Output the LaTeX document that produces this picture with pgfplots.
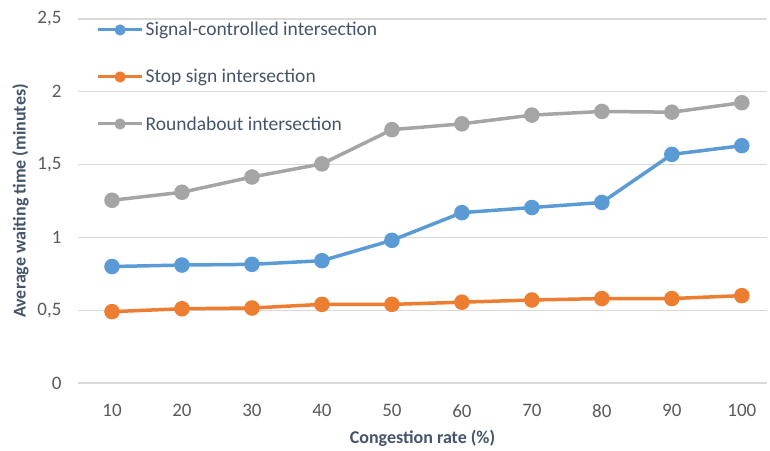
\documentclass[border=0pt]{standalone}
\usepackage{pgfplots}
\pgfplotsset{compat=1.18}
\usepackage{fontspec}
\setmainfont{Carlito}
\definecolor{cblue}{HTML}{5B9BD5}
\definecolor{corange}{HTML}{ED7D31}
\definecolor{cgray}{HTML}{A5A5A5}
\definecolor{cgrid}{HTML}{D9D9D9}
\definecolor{ctick}{HTML}{595959}
\definecolor{clab}{HTML}{44546A}
\begin{document}
\begin{tikzpicture}[x=1pt,y=1pt]
\useasboundingbox (0,0) rectangle (770,450);
\begin{axis}[
  at={(78pt,67pt)}, anchor=south west,
  scale only axis, width=689pt, height=364pt,
  xmin=0.514, xmax=10.36, ymin=0, ymax=2.5,
  xtick={1,...,10},
  xticklabels={10,20,30,40,50,60,70,80,90,100},
  ytick={0,0.5,1,1.5,2,2.5},
  yticklabels={0,{0,5},1,{1,5},2,{2,5}},
  axis line style={draw=none},
  tick style={draw=none},
  ymajorgrids, grid style={cgrid, line width=1.3pt},
  ticklabel style={font=\fontsize{19}{22}\selectfont, text=ctick},
  xticklabel style={yshift=-18pt},
  yticklabel style={xshift=-13pt},
  xlabel={Congestion rate (\%)},
  ylabel={Average waiting time (minutes)},
  label style={font=\bfseries\fontsize{18}{20}\selectfont, text=clab},
  xlabel style={yshift=-6pt},
  ylabel style={yshift=2pt},
  legend style={draw=none, fill=none, at={(axis cs:0.78,2.49)}, anchor=north west,
    font=\fontsize{19.5}{22}\selectfont, text=clab, row sep=28pt,
    inner sep=0pt, outer sep=0pt},
  legend cell align=left,
  legend image code/.code={
    \draw[#1, line width=3pt, mark size=4pt, mark repeat=2, mark phase=2]
      plot coordinates {(0pt,0pt) (22pt,0pt) (44pt,0pt)};
  },
  every axis plot/.append style={line width=3.5pt, mark=*, mark size=6pt,
    mark options={draw=white!88!black, line width=1.2pt}},
]
\addplot[cblue, mark options={fill=cblue}] coordinates {
(1,0.80) (2,0.81) (3,0.815) (4,0.84) (5,0.98) (6,1.17) (7,1.205) (8,1.24) (9,1.57) (10,1.63)};
\addlegendentry{Signal-controlled intersection}
\addplot[corange, mark options={fill=corange}] coordinates {
(1,0.49) (2,0.51) (3,0.515) (4,0.54) (5,0.54) (6,0.555) (7,0.57) (8,0.58) (9,0.58) (10,0.60)};
\addlegendentry{Stop sign intersection}
\addplot[cgray, mark options={fill=cgray}] coordinates {
(1,1.255) (2,1.31) (3,1.415) (4,1.505) (5,1.74) (6,1.78) (7,1.84) (8,1.865) (9,1.86) (10,1.925)};
\addlegendentry{Roundabout intersection}
\end{axis}
\end{tikzpicture}
\end{document}
